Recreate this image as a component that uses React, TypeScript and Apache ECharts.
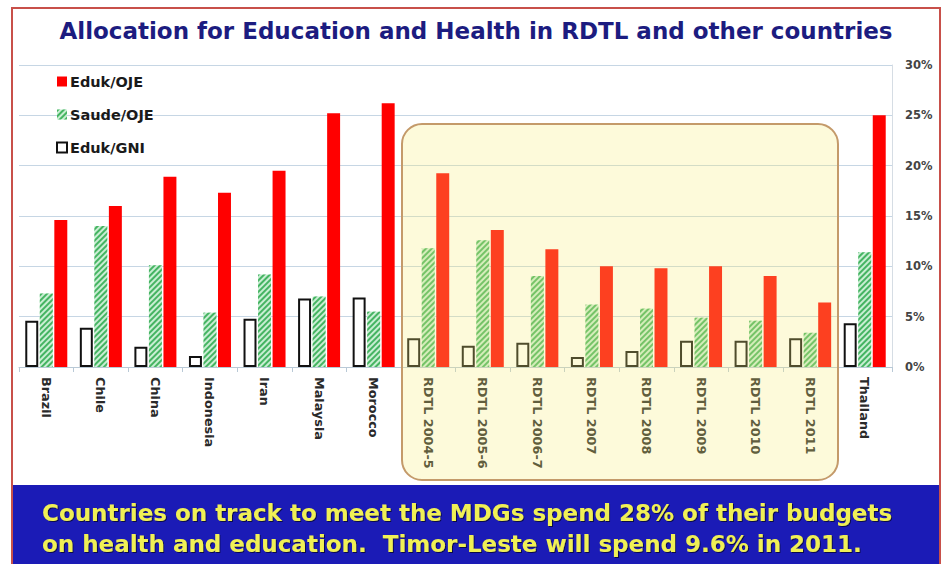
import React, { useEffect, useRef } from "react";
import * as echarts from "echarts";

const categories = [
  "Brazil", "Chile", "China", "Indonesia", "Iran", "Malaysia", "Morocco",
  "RDTL 2004-5", "RDTL 2005-6", "RDTL 2006-7", "RDTL 2007", "RDTL 2008",
  "RDTL 2009", "RDTL 2010", "RDTL 2011", "Thailand",
];
const edukGNI = [4.6, 3.9, 2.0, 1.1, 4.8, 6.8, 6.9, 2.85, 2.1, 2.4, 1.0, 1.6, 2.6, 2.6, 2.85, 4.35];
const saudeOJE = [7.3, 14.0, 10.1, 5.4, 9.2, 7.0, 5.5, 11.8, 12.6, 9.05, 6.2, 5.8, 4.9, 4.6, 3.4, 11.4];
const edukOJE = [14.6, 16.0, 18.9, 17.3, 19.5, 25.2, 26.2, 19.25, 13.6, 11.7, 10.0, 9.8, 10.0, 9.05, 6.4, 25.0];
const legendNames = ["Eduk/OJE", "Saude/OJE", "Eduk/GNI"];
const yTicks = { min: 0, max: 30, interval: 5 };

const titleText = "Allocation for Education and Health in RDTL and other countries";
const bannerLine1 = "Countries on track to meet the MDGs spend 28% of their budgets";
const bannerLine2 = "on health and education.  Timor-Leste will spend 9.6% in 2011.";

export default function App() {
  const ref = useRef<HTMLDivElement>(null);
  useEffect(() => {
    if (!ref.current) return;
    const chart = echarts.init(ref.current, null, { renderer: "svg" });
    const bannerStyle = {
      textAlign: "left",
      textVerticalAlign: "middle",
      fontFamily: "DejaVu Sans",
      fontWeight: "bold",
      fontSize: 23,
      fill: "#f0f055",
      textShadowColor: "rgba(0,0,0,0.6)",
      textShadowOffsetX: 1,
      textShadowOffsetY: 1,
      textShadowBlur: 1,
    };
    const option: any = {
      animation: false,
      backgroundColor: "#ffffff",
      grid: { left: 19, right: 52, top: 65, bottom: 197 },
      legend: {
        data: legendNames,
        orient: "vertical",
        left: 51,
        top: 68,
        itemWidth: 10,
        itemHeight: 10,
        itemGap: 16,
        icon: "rect",
        textStyle: {
          fontFamily: "DejaVu Sans",
          fontSize: 14.5,
          lineHeight: 17,
          fontWeight: "bold",
          color: "#1a1a1a",
          padding: [0, 0, 0, -2],
        },
      },
      xAxis: {
        type: "category",
        data: categories,
        z: 1,
        axisLine: { show: true, lineStyle: { color: "#b9c9d6", width: 1 } },
        axisTick: { show: true, length: 5, lineStyle: { color: "#b9c9d6" } },
        axisLabel: {
          interval: 0,
          rotate: -90,
          margin: 10,
          fontFamily: "DejaVu Sans",
          fontSize: 12.8,
          fontWeight: "bold",
          color: "#2a2a2a",
        },
      },
      yAxis: {
        type: "value",
        position: "right",
        min: yTicks.min,
        max: yTicks.max,
        interval: yTicks.interval,
        z: 1,
        axisLine: { show: true, lineStyle: { color: "#d6dde4" } },
        axisTick: { show: false },
        splitLine: { show: true, lineStyle: { color: "#c6d6e4", width: 1 } },
        axisLabel: {
          margin: 13,
          formatter: "{value}%",
          fontFamily: "DejaVu Sans",
          fontSize: 11.5,
          fontWeight: "bold",
          color: "#444444",
        },
      },
      series: [
        {
          name: "Eduk/GNI",
          type: "bar",
          data: edukGNI,
          barGap: "12%",
          barCategoryGap: "23%",
          itemStyle: { color: "#ffffff", borderColor: "#111111", borderWidth: 2 },
        },
        {
          name: "Saude/OJE",
          type: "bar",
          data: saudeOJE,
          itemStyle: {
            color: "#c9eed3",
            decal: {
              symbol: "rect",
              symbolSize: 1,
              color: "#45b462",
              dashArrayX: [1, 0],
              dashArrayY: [2, 2],
              rotation: -Math.PI / 4,
            },
          },
        },
        {
          name: "Eduk/OJE",
          type: "bar",
          data: edukOJE,
          itemStyle: { color: "#ff0000" },
        },
      ],
      graphic: [
        {
          type: "rect",
          z: 10,
          silent: true,
          shape: { x: 402, y: 124, width: 436, height: 356, r: 20 },
          style: { fill: "rgba(248,238,120,0.27)", stroke: "#c49a6a", lineWidth: 2 },
        },
        {
          type: "text",
          z: 20,
          x: 476,
          y: 31,
          style: {
            text: titleText,
            textAlign: "center",
            textVerticalAlign: "middle",
            fontFamily: "DejaVu Sans",
            fontWeight: "bold",
            fontSize: 23,
            fill: "#1c1c80",
          },
        },
        {
          type: "rect",
          z: 20,
          silent: true,
          shape: { x: 12, y: 485, width: 928, height: 85 },
          style: { fill: "#1b1bb6" },
        },
        {
          type: "text",
          z: 21,
          x: 42,
          y: 513,
          style: { ...bannerStyle, text: bannerLine1 },
        },
        {
          type: "text",
          z: 21,
          x: 42,
          y: 544,
          style: { ...bannerStyle, text: bannerLine2 },
        },
        {
          type: "rect",
          z: 30,
          silent: true,
          shape: { x: 12, y: 8, width: 928, height: 570 },
          style: { fill: "none", stroke: "#c8504a", lineWidth: 2 },
        },
      ],
    };
    chart.setOption(option);
    return () => chart.dispose();
  }, []);
  return (
    <div
      ref={ref}
      style={{ position: "fixed", left: 0, top: 0, width: 944, height: 564 }}
    />
  );
}
